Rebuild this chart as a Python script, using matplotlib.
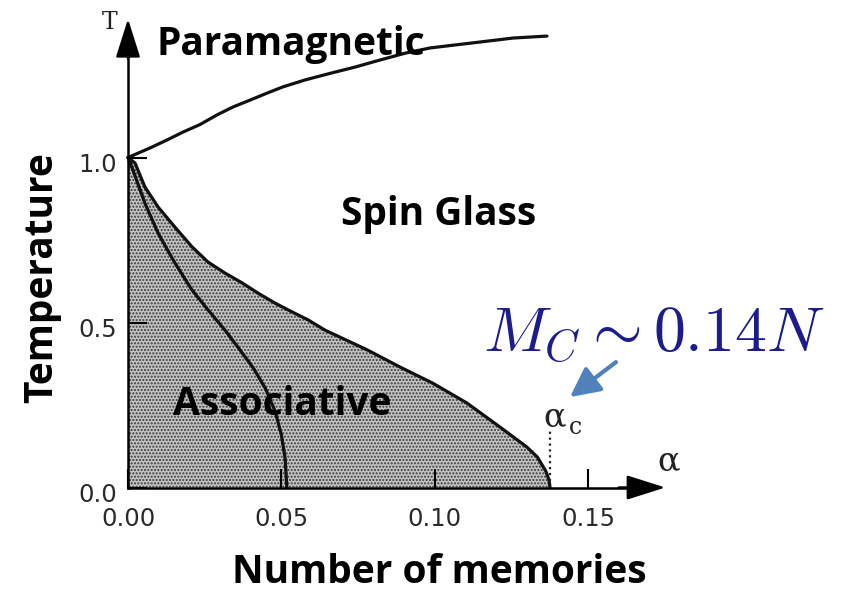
import matplotlib
matplotlib.use("Agg")
import matplotlib.pyplot as plt
from matplotlib.transforms import ScaledTranslation

# values (alpha = memories / N, T = temperature)
alpha_para = [0, 0.0072, 0.0127, 0.0179, 0.0235, 0.029, 0.0342, 0.0398, 0.0453, 0.0505,
              0.0577, 0.0659, 0.074, 0.082, 0.0903, 0.0985, 0.1066, 0.1148, 0.1255, 0.1366]
T_para = [1.0, 1.029, 1.053, 1.077, 1.10, 1.129, 1.153, 1.174, 1.195, 1.214,
          1.235, 1.255, 1.274, 1.295, 1.316, 1.332, 1.341, 1.35, 1.362, 1.368]

alpha_ret = [0, 0.0023, 0.0055, 0.0098, 0.0153, 0.0209, 0.0261, 0.0316, 0.0372, 0.0424,
             0.0479, 0.0535, 0.0587, 0.0642, 0.078, 0.0887, 0.0994, 0.1105, 0.1213,
             0.130, 0.1335, 0.1362, 0.1373, 0.1376]
T_ret = [1.0, 0.983, 0.911, 0.85, 0.789, 0.729, 0.683, 0.65, 0.62, 0.589,
         0.559, 0.532, 0.508, 0.477, 0.417, 0.365, 0.316, 0.256, 0.183,
         0.123, 0.092, 0.05, 0.022, 0.0]

alpha_inner = [0, 0.0016, 0.0055, 0.0098, 0.0153, 0.0209, 0.0261, 0.0316, 0.0365, 0.041,
               0.0448, 0.0480, 0.0500, 0.0512, 0.0518]
T_inner = [1.0, 0.962, 0.862, 0.771, 0.68, 0.598, 0.538, 0.477, 0.417, 0.36,
           0.30, 0.23, 0.16, 0.09, 0.0]

alpha_c = 0.1376
x_ticks = [0.0, 0.05, 0.10, 0.15]
x_ticklabels = ["0.00", "0.05", "0.10", "0.15"]
y_ticks = [0.0, 0.5, 1.0]
y_ticklabels = ["0.0", "0.5", "1.0"]

plt.rcParams["mathtext.fontset"] = "cm"
plt.rcParams["hatch.linewidth"] = 1.0
bold = dict(family="Open Sans", fontweight="bold", fontsize=28)

fig = plt.figure(figsize=(8.42, 5.91), dpi=100)
ax = fig.add_axes([0, 0, 1, 1])
ax.set_xlim(-0.04174, 0.2328)
ax.set_ylim(-0.3136, 1.4773)
ax.patch.set_alpha(0)

# axes through the origin, with arrow heads
for side in ["top", "right"]:
    ax.spines[side].set_visible(False)
ax.spines["left"].set_position(("data", 0))
ax.spines["bottom"].set_position(("data", 0))
ax.spines["left"].set_bounds(0, 1.37)
ax.spines["bottom"].set_bounds(0, 0.165)
for side in ["left", "bottom"]:
    ax.spines[side].set_linewidth(1.8)
arr = dict(arrowstyle="-|>,head_length=1.2,head_width=0.38", color="black",
           lw=1.8, mutation_scale=20, shrinkA=0, shrinkB=0)
ax.annotate("", xy=(0, 1.42), xytext=(0, 1.30), arrowprops=arr)
ax.annotate("", xy=(0.1752, 0), xytext=(0.160, 0), arrowprops=arr)

ax.set_xticks(x_ticks)
ax.set_xticklabels(x_ticklabels)
ax.set_yticks(y_ticks)
ax.set_yticklabels(y_ticklabels)
ax.tick_params(direction="in", length=14, width=1.5, labelsize=17.5, labelcolor="#2a2a2a")
ax.tick_params(axis="x", pad=14)
ax.tick_params(axis="y", pad=8)
shift_down = ScaledTranslation(0, -5 / 100, fig.dpi_scale_trans)
for lab in ax.get_yticklabels():
    lab.set_transform(lab.get_transform() + shift_down)

# phase boundaries
ax.fill_between(alpha_ret, T_ret, 0, facecolor="#c2c2c2", edgecolor="#3a3a3a",
                hatch=".....", linewidth=0)
line_kw = dict(color="#111111", lw=2.3, solid_joinstyle="round", solid_capstyle="round")
ax.plot(alpha_ret, T_ret, **line_kw)
ax.plot(alpha_inner, T_inner, **line_kw)
ax.plot(alpha_para, T_para, **line_kw)
ax.plot([alpha_c, alpha_c], [0.02, 0.17], color="#222222", lw=1.6, ls=":")

# axis symbols from the scanned figure
ax.text(-0.0059, 1.41, "T", family="DejaVu Serif", fontsize=17, ha="center", va="center", color="#222222")
ax.text(0.1764, 0.08, "α", family="DejaVu Serif", fontsize=24, ha="center", va="center", color="#222222")
ax.text(0.1392, 0.214, "α", family="DejaVu Serif", fontsize=24, ha="center", va="center", color="#222222")
ax.text(0.1458, 0.182, "c", family="DejaVu Serif", fontsize=17, ha="center", va="center", color="#222222")

# region labels
ax.text(0.0531, 1.3106, "Paramagnetic", ha="center", va="baseline", **bold)
ax.text(0.1014, 0.7955, "Spin Glass", ha="center", va="baseline", **bold)
ax.text(0.0502, 0.2197, "Associative", ha="center", va="baseline", **bold)

ax.text(0.1157, 0.4106, r"$M_C \sim 0.14N$", fontsize=46, color="#1c1c8c",
        ha="left", va="baseline")
ax.annotate("", xy=(0.1441, 0.274), xytext=(0.1591, 0.380),
            arrowprops=dict(arrowstyle="-|>,head_length=0.9,head_width=0.45",
                            color="#4f81bd", lw=3, mutation_scale=20,
                            shrinkA=0, shrinkB=0))

fig.text(52 / 842, 1 - 278 / 591, "Temperature", rotation=90, rotation_mode="anchor",
         ha="center", va="baseline", **bold)
fig.text(439 / 842, 1 - 583 / 591, "Number of memories", ha="center", va="baseline", **bold)

fig.savefig("out.png", dpi=100)
